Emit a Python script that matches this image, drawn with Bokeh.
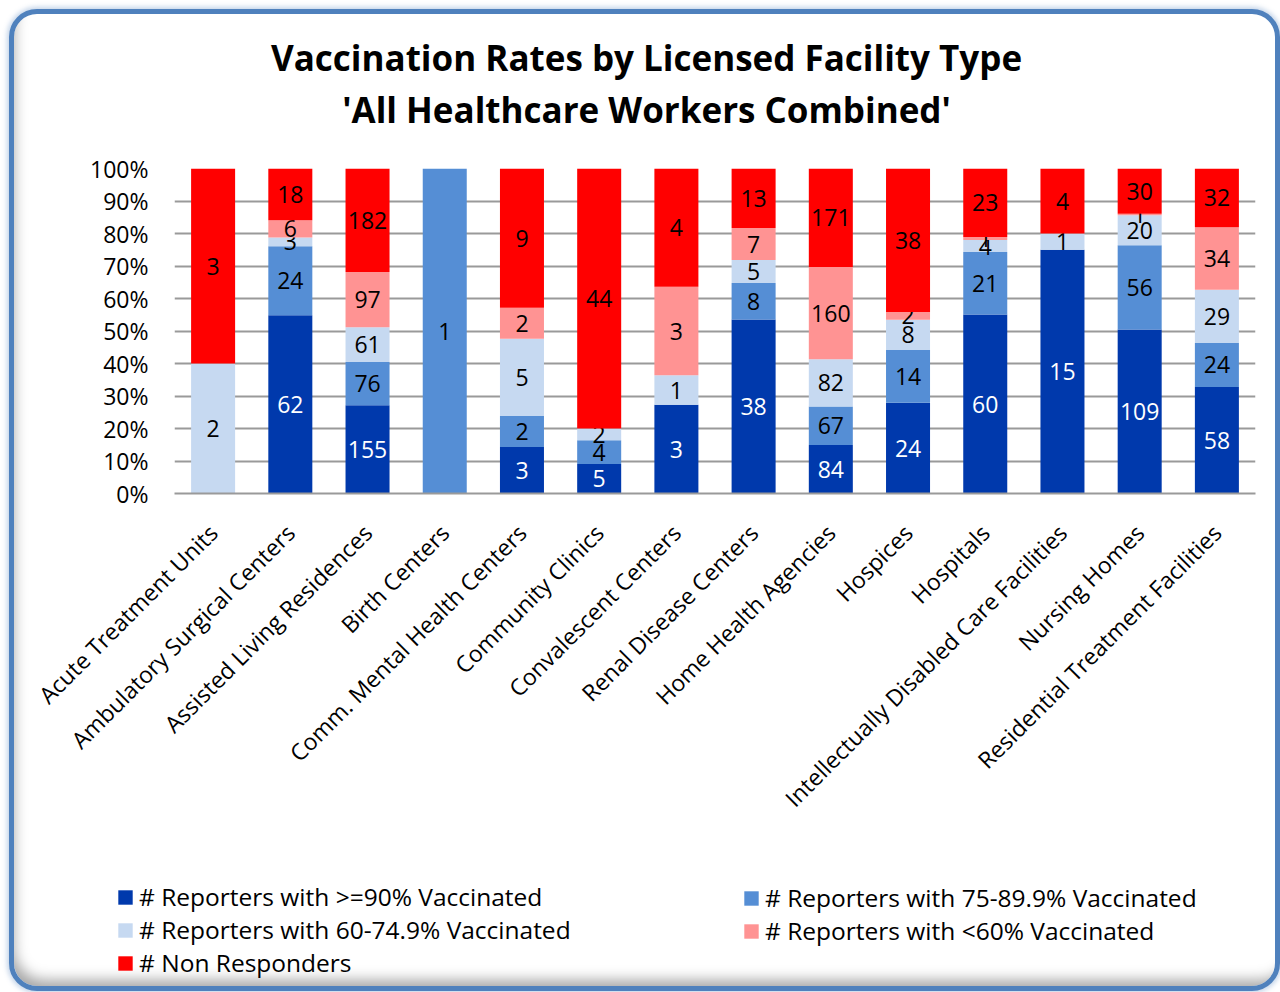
import math
from bokeh.plotting import figure
from bokeh.layouts import column
from bokeh.models import (FactorRange, Range1d, Legend, LegendItem,
                          NumeralTickFormatter, FixedTicker)
from bokeh.core.properties import value
from bokeh.embed import file_html
from bokeh.resources import INLINE

categories = ["Acute Treatment Units", "Ambulatory Surgical Centers", "Assisted Living Residences",
              "Birth Centers", "Comm. Mental Health Centers", "Community Clinics",
              "Convalescent Centers", "Renal Disease Centers", "Home Health Agencies", "Hospices",
              "Hospitals", "Intellectually Disabled Care Facilities", "Nursing Homes",
              "Residential Treatment Facilities"]
ge90 = [0, 62, 155, 0, 3, 5, 3, 38, 84, 24, 60, 15, 109, 58]
r75_89 = [0, 24, 76, 1, 2, 4, 0, 8, 67, 14, 21, 0, 56, 24]
r60_74 = [2, 3, 61, 0, 5, 2, 1, 5, 82, 8, 4, 1, 20, 29]
lt60 = [0, 6, 97, 0, 2, 0, 3, 7, 160, 2, 1, 0, 1, 34]
non_resp = [3, 18, 182, 0, 9, 44, 4, 13, 171, 38, 23, 4, 30, 32]

title_lines = ["Vaccination Rates by Licensed Facility Type", "'All Healthcare Workers Combined'"]
series_names = ["# Reporters with >=90% Vaccinated", "# Reporters with 75-89.9% Vaccinated",
                "# Reporters with 60-74.9% Vaccinated", "# Reporters with <60% Vaccinated",
                "# Non Responders"]
series = [ge90, r75_89, r60_74, lt60, non_resp]
colors = ["#0039AC", "#558ED5", "#C6D9F1", "#FF9393", "#FF0000"]
label_colors = ["white", "black", "black", "black", "black"]

FONT = "Open Sans"
OFF = 14                      # page offset of the content (margin 9 + border 5)
W = 1261
H0, H1, H2 = 134, 856, 116    # header, chart, legend heights
H1 = H1 - H0
TOP = OFF + H0                # page y of chart figure top
FL, FR, FT, FB = 174 - OFF, 1255 - OFF, 168 - TOP, 493 - TOP


def blank(height):
    f = figure(x_range=Range1d(0, W), y_range=Range1d(0, height), width=W, height=height,
               output_backend="svg", toolbar_location=None, title=None,
               x_axis_location=None, y_axis_location=None, min_border=0)
    f.outline_line_color = None
    f.background_fill_color = None
    f.border_fill_color = None
    f.grid.visible = False
    f.frame_align = False
    return f


# header with the two title lines (pixel coordinates of the header canvas)
hd = blank(H0)
hd.text(x=[646 - OFF, 646 - OFF], y=[H0 - (57 - OFF), H0 - (109 - OFF)], text=title_lines,
        text_align="center", text_baseline="middle", text_color="black",
        text_font=value(FONT), text_font_size="35px", text_font_style="bold")

# chart
p = figure(x_range=FactorRange(*categories), y_range=Range1d(0, 1), width=W, height=H1,
           output_backend="svg", toolbar_location=None, title=None,
           min_border_left=FL, min_border_right=W - FR, min_border_top=FT,
           min_border_bottom=H1 - FB)
p.outline_line_color = None
p.background_fill_color = None
p.border_fill_color = None

totals = [sum(s[i] for s in series) for i in range(len(categories))]
bottoms = [0.0] * len(categories)
for k, s in enumerate(series):
    frac = [s[i] / totals[i] for i in range(len(categories))]
    tops = [bottoms[i] + frac[i] for i in range(len(categories))]
    p.vbar(x=categories, bottom=bottoms, top=tops, width=0.57, fill_color=colors[k],
           line_color=None)
    xs, ys, ts = [], [], []
    for i in range(len(categories)):
        if s[i] > 0:
            xs.append(categories[i])
            ys.append((bottoms[i] + tops[i]) / 2)
            ts.append(str(s[i]))
    p.text(x=xs, y=ys, text=ts, text_align="center", text_baseline="middle",
           text_color=label_colors[k], text_font=value(FONT), text_font_size="23px")
    bottoms = tops

p.yaxis.ticker = FixedTicker(ticks=[i / 10 for i in range(11)])
p.yaxis.formatter = NumeralTickFormatter(format="0%")
p.yaxis.axis_line_color = None
p.yaxis.major_tick_line_color = None
p.yaxis.minor_tick_line_color = None
p.yaxis.major_label_text_font = FONT
p.yaxis.major_label_text_font_size = "23px"
p.yaxis.major_label_text_color = "black"
p.yaxis.major_label_standoff = 20

p.xaxis.axis_line_color = "#9A9A9A"
p.xaxis.axis_line_width = 2
p.xaxis.major_tick_line_color = None
p.xaxis.major_label_orientation = math.pi / 4
p.xaxis.major_label_text_font = FONT
p.xaxis.major_label_text_font_size = "23px"
p.xaxis.major_label_text_color = "black"
p.xaxis.major_label_standoff = 29

p.xgrid.grid_line_color = None
p.ygrid.grid_line_color = "#9A9A9A"
p.ygrid.grid_line_width = 2

# legend panel
q = blank(H2)
swatches = [q.vbar(x=[0], bottom=[0], top=[0], width=0, fill_color=c, line_color=None)
            for c in colors]


def make_legend(idx, loc):
    return Legend(items=[LegendItem(label=series_names[i], renderers=[swatches[i]]) for i in idx],
                  location=loc, orientation="vertical", padding=0, margin=0, spacing=-2,
                  border_line_color=None, background_fill_alpha=0,
                  glyph_width=18, glyph_height=18, label_standoff=5,
                  label_text_font=FONT, label_text_font_size="24.5px", label_text_color="black")


q.add_layout(make_legend([0, 2, 4], (116 - OFF, 7)), "center")
q.add_layout(make_legend([1, 3], (742 - OFF, 39)), "center")

layout = column(hd, p, q, margin=(9, 0, 0, 9), spacing=0,
                styles={"border": "5px solid #4F81BD", "border-radius": "28px",
                        "background": "white",
                        "box-shadow": "inset 8px -14px 14px -8px rgba(0,0,0,0.35), 0 0 5px 2px rgba(79,129,189,0.35)"})

open("out.html", "w").write(file_html(layout, INLINE))
